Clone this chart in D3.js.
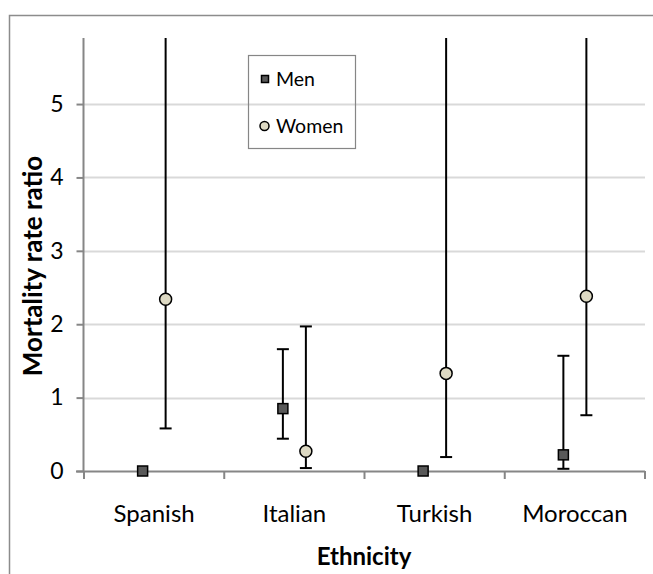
<!DOCTYPE html>
<html><head><meta charset="utf-8">
<script src="https://cdn.jsdelivr.net/npm/d3@7"></script>
<style>body{margin:0;background:#fff}svg{display:block}text{font-family:Lato,"Noto Sans",sans-serif;fill:#000}</style>
</head><body>
<script>
const categories = ["Spanish","Italian","Turkish","Moroccan"];
const yTicks = [0,1,2,3,4,5];
const menValue = [0, 0.85, 0, 0.22];
const menLow   = [null, 0.44, null, 0.03];
const menHigh  = [null, 1.66, null, 1.57];
const womenValue = [2.34, 0.27, 1.33, 2.38];
const womenLow   = [0.58, 0.04, 0.19, 0.76];
const womenHigh  = [10, 1.97, 10, 10];
const series = [
  {name:"Men", values:menValue, low:menLow, high:menHigh, shape:"square", fill:"#595959", offset:-1},
  {name:"Women", values:womenValue, low:womenLow, high:womenHigh, shape:"circle", fill:"#ddd9c3", offset:1}
];

(function(){
const W=653,H=574;
const FONT="Lato,'Noto Sans',sans-serif";
const svg=d3.select("body").append("svg").attr("width",W).attr("height",H);
svg.append("rect").attr("x",9.5).attr("y",15.5).attr("width",W).attr("height",H).attr("fill","none").attr("stroke","#8c8c8c").attr("stroke-width",1.5);

const pL=84, pR=645, pT=38, pB=471;
const yMax=5.9;
const x=d3.scaleBand().domain(categories).range([pL,pR]);
const y=d3.scaleLinear().domain([0,yMax]).range([pB,pT]);

svg.append("clipPath").attr("id","pa").append("rect").attr("x",pL).attr("y",pT).attr("width",pR-pL).attr("height",pB-pT);

svg.append("g").selectAll("line").data(yTicks.filter(d=>d>0)).join("line")
  .attr("x1",pL).attr("x2",pR).attr("y1",d=>Math.round(y(d))+0.5).attr("y2",d=>Math.round(y(d))+0.5)
  .attr("stroke","#d9d9d9").attr("stroke-width",2);

const ya=svg.append("g").attr("transform",`translate(${pL-0.5},0)`)
  .call(d3.axisLeft(y).tickValues(yTicks).tickSize(7).tickPadding(13).tickFormat(d3.format("d")));
ya.select(".domain").attr("stroke","#868686").attr("stroke-width",2).attr("d",`M0,${pB}V${pT}`);
ya.selectAll(".tick line").attr("stroke","#868686").attr("stroke-width",2);
ya.selectAll(".tick text").style("font-size","23px").attr("font-family",FONT).attr("fill","#000");

const xa=svg.append("g").attr("transform",`translate(0,${pB+0.5})`)
  .call(d3.axisBottom(x).tickSize(0).tickPadding(33));
xa.select(".domain").attr("stroke","#868686").attr("stroke-width",2).attr("d",`M${pL-8},0H${pR}`);
xa.selectAll(".tick text").style("font-size","24px").attr("font-family",FONT).attr("fill","#000");
const bounds=categories.map(c=>x(c)).concat([pR]);
svg.append("g").selectAll("line").data(bounds).join("line")
  .attr("x1",d=>d).attr("x2",d=>d).attr("y1",pB).attr("y2",pB+8)
  .attr("stroke","#868686").attr("stroke-width",2);

const off=11.5;
const plot=svg.append("g").attr("clip-path","url(#pa)");
const mk=svg.append("g");
series.forEach(s=>{
  categories.forEach((c,i)=>{
    const cx=x(c)+x.bandwidth()/2+s.offset*off;
    if(s.low[i]!=null){
      const yl=y(s.low[i]), yh=y(Math.min(s.high[i],yMax));
      plot.append("line").attr("x1",cx).attr("x2",cx).attr("y1",yl).attr("y2",yh).attr("stroke","#000").attr("stroke-width",2);
      plot.append("line").attr("x1",cx-6).attr("x2",cx+6).attr("y1",yl).attr("y2",yl).attr("stroke","#000").attr("stroke-width",2);
      if(s.high[i]<=yMax) plot.append("line").attr("x1",cx-6).attr("x2",cx+6).attr("y1",yh).attr("y2",yh).attr("stroke","#000").attr("stroke-width",2);
    }
    const cy=y(s.values[i]);
    if(s.shape==="square") mk.append("rect").attr("x",cx-5).attr("y",cy-5).attr("width",10).attr("height",10).attr("fill",s.fill).attr("stroke","#000").attr("stroke-width",1.5);
    else mk.append("circle").attr("cx",cx).attr("cy",cy).attr("r",6).attr("fill",s.fill).attr("stroke","#000").attr("stroke-width",1.5);
  });
});

const lg=svg.append("g");
lg.append("rect").attr("x",248.5).attr("y",55.5).attr("width",107).attr("height",93).attr("fill","none").attr("stroke","#868686").attr("stroke-width",1.2);
series.forEach((s,i)=>{
  const ly=79+i*47;
  if(s.shape==="square") lg.append("rect").attr("x",261.5).attr("y",ly-3.5).attr("width",7).attr("height",7).attr("fill",s.fill).attr("stroke","#000").attr("stroke-width",1.5);
  else lg.append("circle").attr("cx",264.5).attr("cy",ly).attr("r",4.5).attr("fill",s.fill).attr("stroke","#000").attr("stroke-width",1.5);
  lg.append("text").attr("x",276).attr("y",ly+7).style("font-size","19.5px").text(s.name);
});

svg.append("text").attr("transform",`translate(42,${266}) rotate(-90)`).attr("text-anchor","middle")
  .style("font-size","26px").style("font-weight","bold").text("Mortality rate ratio");
svg.append("text").attr("x",364).attr("y",565).attr("text-anchor","middle")
  .style("font-size","24px").style("font-weight","bold").text("Ethnicity");
})();
</script>
</body></html>
